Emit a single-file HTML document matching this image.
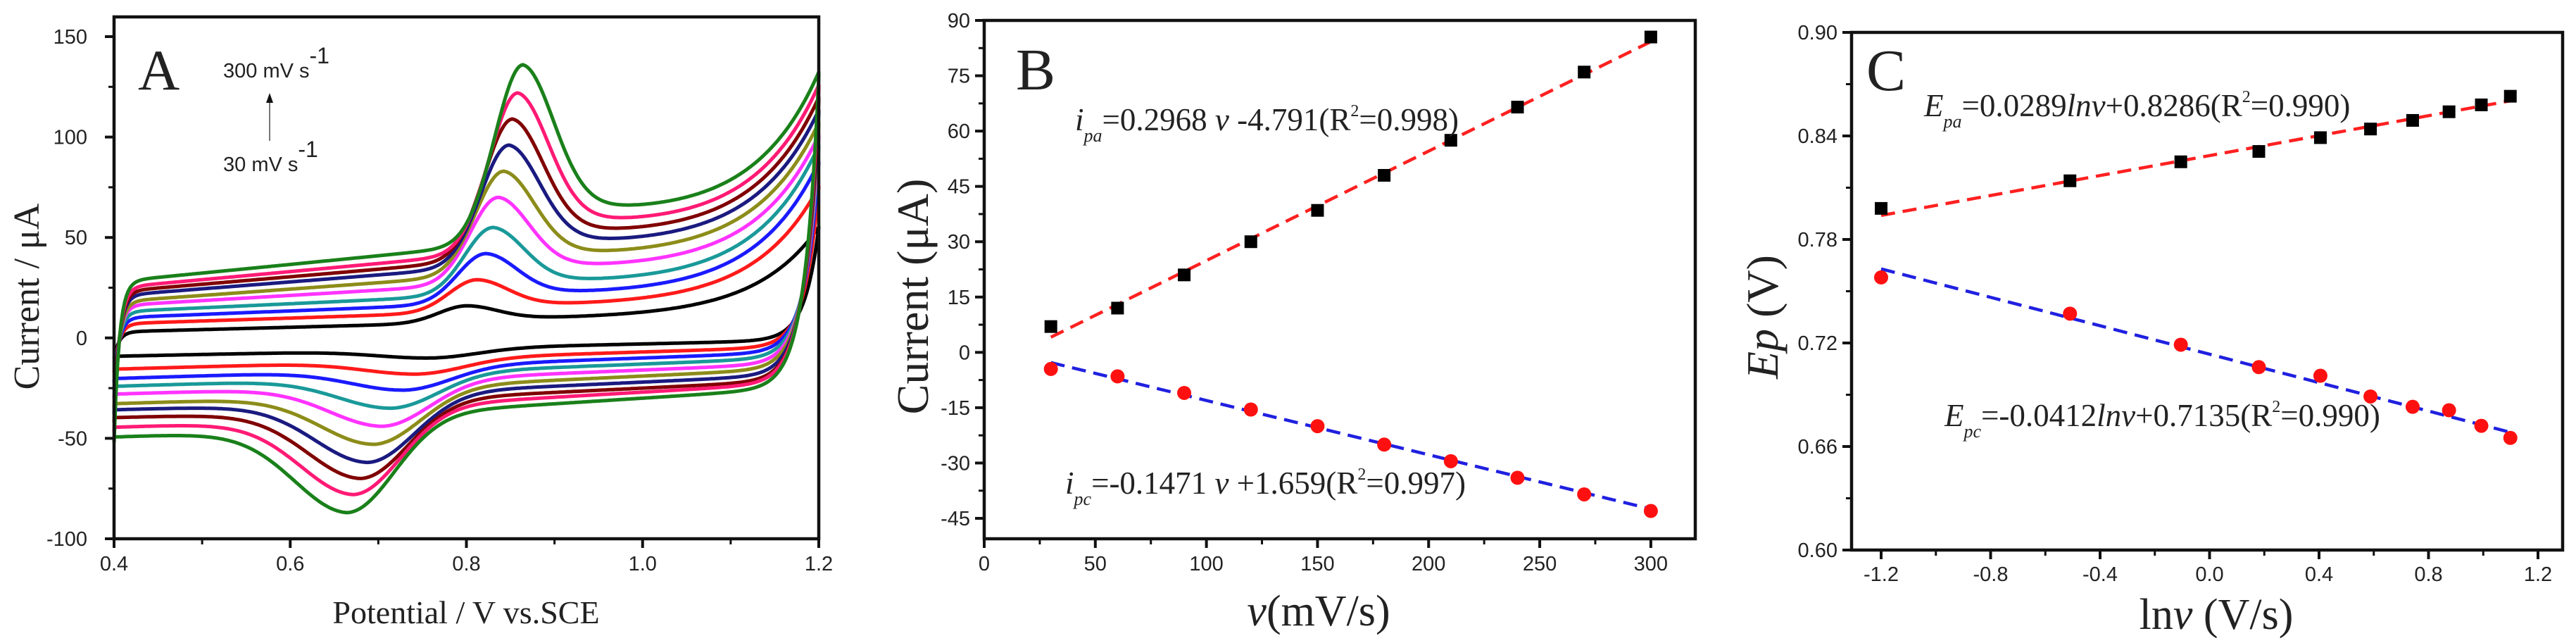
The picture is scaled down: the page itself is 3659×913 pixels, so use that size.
<!DOCTYPE html>
<html><head><meta charset="utf-8">
<style>
html,body{margin:0;padding:0;background:#fff;}
svg{display:block;}
.tk{font-family:"Liberation Sans",Arial,sans-serif;font-size:29px;fill:#222;}
.ser{font-family:"Liberation Serif","Times New Roman",serif;fill:#222;}
</style></head>
<body>
<svg id="fig" xmlns="http://www.w3.org/2000/svg" width="3659" height="913" viewBox="0 0 3659 913">
<rect width="3659" height="913" fill="#fff"/>
<g id="pA"></g>
<g id="pB"></g>
<g id="pC"></g>

<!-- Panel A texts -->
<text class="ser" x="196" y="127" font-size="82">A</text>
<text class="tk" x="317" y="110" font-size="44">300 mV s<tspan dy="-20" font-size="32">-1</tspan></text>
<text class="tk" x="317" y="243" font-size="44">30 mV s<tspan dy="-20" font-size="32">-1</tspan></text>
<line x1="383" y1="200" x2="383" y2="142" stroke="#777" stroke-width="2"/>
<polygon points="383,132 378,146 388,146" fill="#111"/>
<text class="ser" x="662" y="885" font-size="46" text-anchor="middle">Potential / V vs.SCE</text>
<text class="ser" transform="translate(55,421) rotate(-90)" font-size="52" text-anchor="middle">Current / μA</text>

<!-- Panel B texts -->
<text class="ser" x="1443" y="127" font-size="84">B</text>
<text class="ser" x="1527" y="185" font-size="45"><tspan font-style="italic">i</tspan><tspan font-style="italic" font-size="26" dy="16">pa</tspan><tspan dy="-16">=0.2968 </tspan><tspan font-style="italic">v</tspan><tspan> -4.791(R</tspan><tspan font-size="24" dy="-20">2</tspan><tspan dy="20">=0.998)</tspan></text>
<text class="ser" x="1513" y="701" font-size="45"><tspan font-style="italic">i</tspan><tspan font-style="italic" font-size="26" dy="16">pc</tspan><tspan dy="-16">=-0.1471 </tspan><tspan font-style="italic">v</tspan><tspan> +1.659(R</tspan><tspan font-size="24" dy="-20">2</tspan><tspan dy="20">=0.997)</tspan></text>
<text class="ser" x="1873" y="888" font-size="62" text-anchor="middle"><tspan font-style="italic">v</tspan>(mV/s)</text>
<text class="ser" transform="translate(1318,421) rotate(-90)" font-size="64" text-anchor="middle">Current (μA)</text>

<!-- Panel C texts -->
<text class="ser" x="2651" y="128" font-size="84">C</text>
<text class="ser" x="2733" y="165" font-size="45"><tspan font-style="italic">E</tspan><tspan font-style="italic" font-size="26" dy="16">pa</tspan><tspan dy="-16">=0.0289</tspan><tspan font-style="italic">lnv</tspan><tspan>+0.8286(R</tspan><tspan font-size="24" dy="-20">2</tspan><tspan dy="20">=0.990)</tspan></text>
<text class="ser" x="2762" y="605" font-size="45"><tspan font-style="italic">E</tspan><tspan font-style="italic" font-size="26" dy="16">pc</tspan><tspan dy="-16">=-0.0412</tspan><tspan font-style="italic">lnv</tspan><tspan>+0.7135(R</tspan><tspan font-size="24" dy="-20">2</tspan><tspan dy="20">=0.990)</tspan></text>
<text class="ser" x="3148" y="893" font-size="62" text-anchor="middle">ln<tspan font-style="italic">v</tspan> (V/s)</text>
<text class="ser" transform="translate(2525,450) rotate(-90)" font-size="64" text-anchor="middle"><tspan font-style="italic">Ep</tspan> (V)</text>
</svg>
<script>
// ---------- Panel A data (CV curves) ----------
const cvScanRates = [30,60,90,120,150,180,210,240,270,300];
const cvColors = ['#000000','#ff1a1a','#1a1aff','#1a9999','#ff33ff','#8c8c1a','#1a1a80','#800000','#ff1a75','#1a801a'];
const cvAnodicPeakI = [16,29,42,55,70,83,96,109,122,136];
const cvAnodicPeakE = [0.80,0.812,0.822,0.83,0.836,0.842,0.848,0.852,0.858,0.864];
const cvCathodicPeakI = [-10,-18,-26,-35,-44,-53,-62,-70,-78,-87];
const cvCathodicPeakE = [0.76,0.745,0.73,0.715,0.705,0.695,0.688,0.68,0.672,0.665];
const cvFwdStart = [3,7,10,13,16,18,21,23,25,28];
const cvFwdPrePeak = [7,12,16,20,25,29,33,36,39,43];
const cvFwdEnd = [55,75,87,95,100,106,112,118,124,130];
const cvRevEnd = [-10,-17,-22,-26,-30,-35,-38,-42,-47,-52];
const cvRevAt1 = [-3,-7,-10,-13,-16,-19,-22,-25,-27,-30];
const aXTicks = [0.4,0.6,0.8,1.0,1.2];
const aXTickLabels = ['0.4','0.6','0.8','1.0','1.2'];
const aYTicks = [-100,-50,0,50,100,150];
const aYTickLabels = ['-100','-50','0','50','100','150'];

// ---------- Panel B data ----------
const bScanRates = [30,60,90,120,150,180,210,240,270,300];
const bAnodicI = [7,12,21,30,38.5,48,57.5,66.5,76,85.5];
const bCathodicI = [-4.5,-6.5,-11,-15.5,-20,-25,-29.5,-34,-38.5,-43];
const bAnodicFit = [0.2968,-4.791];
const bCathodicFit = [-0.1471,1.659];
const bXTicks = [0,50,100,150,200,250,300];
const bXTickLabels = ['0','50','100','150','200','250','300'];
const bYTicks = [-45,-30,-15,0,15,30,45,60,75,90];
const bYTickLabels = ['-45','-30','-15','0','15','30','45','60','75','90'];

// ---------- Panel C data ----------
const cLnV = [-1.2,-0.51,-0.105,0.18,0.405,0.588,0.742,0.875,0.993,1.099];
const cEpa = [0.798,0.814,0.825,0.831,0.839,0.844,0.849,0.854,0.858,0.863];
const cEpc = [0.758,0.737,0.719,0.706,0.701,0.689,0.683,0.681,0.672,0.665];
const cAnodicFit = [0.0289,0.8286];
const cCathodicFit = [-0.0412,0.7135];
const cXTicks = [-1.2,-0.8,-0.4,0.0,0.4,0.8,1.2];
const cXTickLabels = ['-1.2','-0.8','-0.4','0.0','0.4','0.8','1.2'];
const cYTicks = [0.60,0.66,0.72,0.78,0.84,0.90];
const cYTickLabels = ['0.60','0.66','0.72','0.78','0.84','0.90'];

const NS='http://www.w3.org/2000/svg';
function mk(tag, parent){ const e=document.createElementNS(NS,tag); parent.appendChild(e); return e; }
function lin(d0,d1,r0,r1){ return v=>r0+(v-d0)*(r1-r0)/(d1-d0); }
function sq(v){ return v*v; }

function axes(g, box, xs, ys, xT, xL, yT, yL, xMinor, yMinor, xLabY, yLabX, pfx){
  for(let i=0;i<xT.length;i++){
    const x=xs(xT[i]);
    const t=mk('line',g);
    
    
    t.setAttribute('x1',x);t.setAttribute('x2',x);t.setAttribute('y1',box.B);t.setAttribute('y2',box.B+13);
    t.setAttribute('stroke','#111');t.setAttribute('stroke-width','4');
    const l=mk('text',g);
    
    
    l.setAttribute('class','tk');l.setAttribute('x',x);l.setAttribute('y',xLabY);l.setAttribute('text-anchor','middle');
    l.textContent=xL[i];
  }
  for(const v of xMinor){
    const x=xs(v);
    const t=mk('line',g);
    
    
    t.setAttribute('x1',x);t.setAttribute('x2',x);t.setAttribute('y1',box.B);t.setAttribute('y2',box.B+8);
    t.setAttribute('stroke','#111');t.setAttribute('stroke-width','3');
  }
  for(let i=0;i<yT.length;i++){
    const y=ys(yT[i]);
    const t=mk('line',g);
    
    
    t.setAttribute('x1',box.L-13);t.setAttribute('x2',box.L);t.setAttribute('y1',y);t.setAttribute('y2',y);
    t.setAttribute('stroke','#111');t.setAttribute('stroke-width','4');
    const l=mk('text',g);
    
    
    l.setAttribute('class','tk');l.setAttribute('x',yLabX);l.setAttribute('y',y+10);l.setAttribute('text-anchor','end');
    l.textContent=yL[i];
  }
  for(const v of yMinor){
    const y=ys(v);
    const t=mk('line',g);
    
    
    t.setAttribute('x1',box.L-8);t.setAttribute('x2',box.L);t.setAttribute('y1',y);t.setAttribute('y2',y);
    t.setAttribute('stroke','#111');t.setAttribute('stroke-width','3');
  }
  const r=mk('rect',g);
  
  
  r.setAttribute('x',box.L);r.setAttribute('y',box.T);r.setAttribute('width',box.R-box.L);r.setAttribute('height',box.B-box.T);
  r.setAttribute('fill','none');r.setAttribute('stroke','#111');r.setAttribute('stroke-width','4.5');
}

// ---------- Panel A ----------
(function(){
  const g=document.getElementById('pA');
  const box={L:162,R:1163,T:24,B:765};
  const xs=lin(0.4,1.2,box.L,box.R), ys=lin(-100,150,765,52);
  const plot=mk('g',g);
  
  
  for(let i=0;i<cvScanRates.length;i++){
    const f0=cvFwdStart[i], s=(cvFwdPrePeak[i]-f0)/0.35;
    const fb=E=>f0+s*(E-0.4);
    const T=cvFwdEnd[i]-fb(1.2);
    const base=E=>fb(E)+T*Math.exp((E-1.2)/0.07);
    const Ep=cvAnodicPeakE[i], h=cvAnodicPeakI[i]-base(Ep);
    const rE=cvRevEnd[i];
    const Ec=cvCathodicPeakE[i];
    const fwd=E=>{
      const dd=E-Ep;
      const pk = dd<0 ? Math.exp(-sq(dd/0.045)) : 0.75*Math.exp(-sq(dd/0.05))+0.25*Math.exp(-dd/0.15);
      return base(E)+h*pk-(f0-rE)*Math.exp(-(E-0.4)/0.006);
    };
    const rb0=rE*0.9, rs=(cvRevAt1[i]-rb0)/0.6;
    const rbl=E=>rb0+rs*(E-0.4);
    const hc=cvCathodicPeakI[i]-rbl(Ec);
    const rev=E=>{
      const dd=E-Ec;
      const pk = dd>0 ? Math.exp(-sq(dd/0.075)) : 0.8*Math.exp(-sq(dd/0.085))+0.2*Math.exp(dd/0.2);
      return rbl(E)+hc*pk+(cvFwdEnd[i]-rbl(1.2))*Math.exp((E-1.2)/0.016);
    };
    let path='';
    const N=400;
    for(let k=0;k<=N;k++){const E=0.4+0.8*k/N; path+=(k?'L':'M')+xs(E).toFixed(1)+','+ys(fwd(E)).toFixed(1);}
    for(let k=N;k>=0;k--){const E=0.4+0.8*k/N; path+='L'+xs(E).toFixed(1)+','+ys(rev(E)).toFixed(1);}
    const pe=mk('path',plot);
    
    
    pe.setAttribute('d',path);pe.setAttribute('fill','none');pe.setAttribute('stroke',cvColors[i]);
    pe.setAttribute('stroke-width','5');pe.setAttribute('stroke-linejoin','round');
  }
  const xm=[0.5,0.7,0.9,1.1], ym=[-75,-25,25,75,125];
  axes(g,box,xs,ys,aXTicks,aXTickLabels,aYTicks,aYTickLabels,xm,ym,810,124,'a');
})();

function scatterPanel(gid, box, xs, ys, xVals, yA, yC, fitA, fitC, pfx){
  const g=document.getElementById(gid);
  const x0=xVals[0], x1=xVals[xVals.length-1];
  const fits=[[fitA,'#ff2020','anodic'],[fitC,'#2020e0','cathodic']];
  for(const fit of fits){
    const f=fit[0], c=fit[1], n=fit[2];
    const l=mk('line',g);
    
    
    l.setAttribute('x1',xs(x0));l.setAttribute('y1',ys(f[0]*x0+f[1]));
    l.setAttribute('x2',xs(x1));l.setAttribute('y2',ys(f[0]*x1+f[1]));
    l.setAttribute('stroke',c);l.setAttribute('stroke-width','4.5');l.setAttribute('stroke-dasharray','20 11');
  }
  for(let i=0;i<xVals.length;i++){
    const r=mk('rect',g);
    
    
    r.setAttribute('x',xs(xVals[i])-9);r.setAttribute('y',ys(yA[i])-9);r.setAttribute('width',18);r.setAttribute('height',18);r.setAttribute('fill','#000');
    const c=mk('circle',g);
    
    
    c.setAttribute('cx',xs(xVals[i]));c.setAttribute('cy',ys(yC[i]));c.setAttribute('r',10);c.setAttribute('fill','#ff1010');
  }
  return g;
}

// ---------- Panel B ----------
(function(){
  const box={L:1398,R:2408,T:29,B:765};
  const xs=lin(0,320,box.L,box.R), ys=lin(90,-45,29,736);
  const g=scatterPanel('pB',box,xs,ys,bScanRates,bAnodicI,bCathodicI,bAnodicFit,bCathodicFit,'b');
  const xm=[25,75,125,175,225,275], ym=[-37.5,-22.5,-7.5,7.5,22.5,37.5,52.5,67.5,82.5];
  axes(g,box,xs,ys,bXTicks,bXTickLabels,bYTicks,bYTickLabels,xm,ym,810,1378,'b');
})();

// ---------- Panel C ----------
(function(){
  const box={L:2630,R:3640,T:46,B:781};
  const xs=lin(-1.2,1.2,2672,3605), ys=lin(0.60,0.90,781,46);
  const g=scatterPanel('pC',box,xs,ys,cLnV,cEpa,cEpc,cAnodicFit,cCathodicFit,'c');
  const xm=[-1.0,-0.6,-0.2,0.2,0.6,1.0], ym=[0.63,0.69,0.75,0.81,0.87];
  axes(g,box,xs,ys,cXTicks,cXTickLabels,cYTicks,cYTickLabels,xm,ym,825,2610,'c');
})();
</script>
</body></html>
